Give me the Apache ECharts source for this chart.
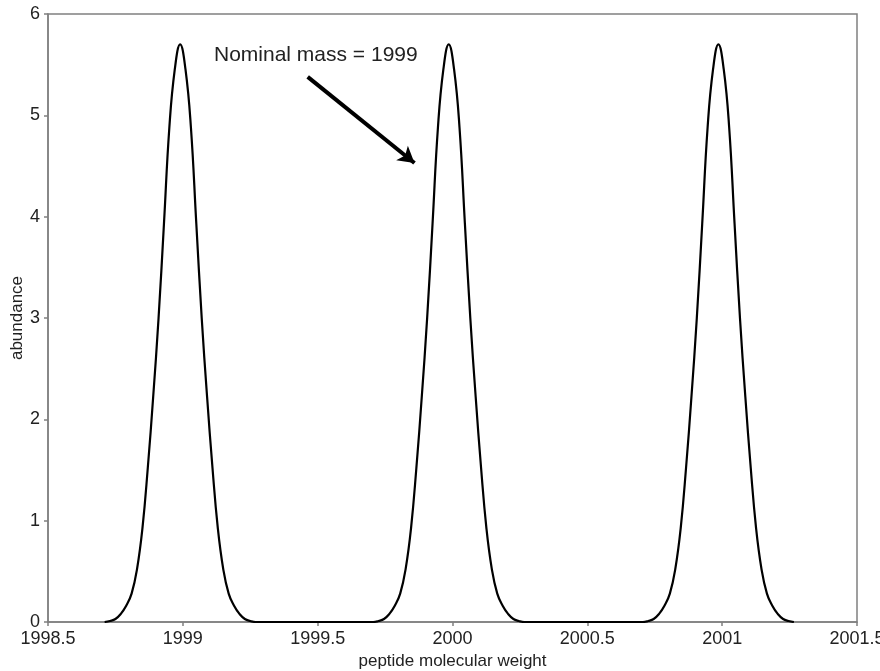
<!DOCTYPE html>
<html>
<head>
<meta charset="utf-8">
<script src="https://cdn.jsdelivr.net/npm/echarts@6/dist/echarts.min.js"></script>
<style>
	html, body { margin: 0; padding: 0; background: #ffffff; }
	#chart { width: 880px; height: 671px; }
</style>
</head>
<body>
<div id="chart"></div>
<script>
// x ticks
var massTicks = [1998.5, 1999, 1999.5, 2000, 2000.5, 2001, 2001.5];

// peak 1
var peak1Mass = [1998.71, 1998.73, 1998.75, 1998.77, 1998.79, 1998.81, 1998.83, 1998.85, 1998.87, 1998.89,
	1998.91, 1998.93, 1998.95, 1998.97, 1998.99, 1999.01, 1999.03, 1999.05, 1999.07, 1999.09,
	1999.11, 1999.13, 1999.15, 1999.17, 1999.19, 1999.21, 1999.23, 1999.25, 1999.27];
var peak1Abundance = [0, 0.01, 0.03, 0.08, 0.16, 0.28, 0.52, 0.92, 1.52, 2.22,
	3.00, 3.93, 4.88, 5.45, 5.70, 5.45, 4.88, 3.93, 3.00, 2.22,
	1.52, 0.92, 0.52, 0.28, 0.16, 0.08, 0.03, 0.01, 0];

// peak 2
var peak2Mass = [1999.706, 1999.726, 1999.746, 1999.766, 1999.786, 1999.806, 1999.826, 1999.846, 1999.866, 1999.886,
	1999.906, 1999.926, 1999.946, 1999.966, 1999.986, 2000.006, 2000.026, 2000.046, 2000.066, 2000.086,
	2000.106, 2000.126, 2000.146, 2000.166, 2000.186, 2000.206, 2000.226, 2000.246, 2000.266];
var peak2Abundance = [0, 0.01, 0.03, 0.08, 0.16, 0.28, 0.52, 0.92, 1.52, 2.22,
	3.00, 3.93, 4.88, 5.45, 5.70, 5.45, 4.88, 3.93, 3.00, 2.22,
	1.52, 0.92, 0.52, 0.28, 0.16, 0.08, 0.03, 0.01, 0];

// peak 3
var peak3Mass = [2000.706, 2000.726, 2000.746, 2000.766, 2000.786, 2000.806, 2000.826, 2000.846, 2000.866, 2000.886,
	2000.906, 2000.926, 2000.946, 2000.966, 2000.986, 2001.006, 2001.026, 2001.046, 2001.066, 2001.086,
	2001.106, 2001.126, 2001.146, 2001.166, 2001.186, 2001.206, 2001.226, 2001.246, 2001.266];
var peak3Abundance = [0, 0.01, 0.03, 0.08, 0.16, 0.28, 0.52, 0.92, 1.52, 2.22,
	3.00, 3.93, 4.88, 5.45, 5.70, 5.45, 4.88, 3.93, 3.00, 2.22,
	1.52, 0.92, 0.52, 0.28, 0.16, 0.08, 0.03, 0.01, 0];

// arrow of the annotation, in data units
var arrowFrom = [1999.463, 5.38];
var arrowTo = [1999.859, 4.53];
var noteText = 'Nominal mass = 1999';

var fontName = '"Liberation Sans", Arial, sans-serif';
var axisGrey = '#808080';

function pairs(xs, ys) {
	var t = [];
	for (var i = 0; i < xs.length; i++) {
		t.push([xs[i], ys[i]]);
	}
	return t;
}

var curve = [].concat(
	pairs(peak1Mass, peak1Abundance),
	pairs(peak2Mass, peak2Abundance),
	pairs(peak3Mass, peak3Abundance)
);

var dom = document.getElementById('chart');
var myChart = echarts.init(dom, null, { renderer: 'canvas' });

var option = {
	animation: false,
	backgroundColor: '#ffffff',
	grid: {
		left: 48,
		right: 23,
		top: 14,
		bottom: 49,
		outerBoundsMode: 'none',
		containLabel: false,
		show: true,
		borderColor: axisGrey,
		borderWidth: 1.5
	},
	xAxis: {
		type: 'value',
		min: massTicks[0],
		max: massTicks[massTicks.length - 1],
		interval: 0.5,
		name: 'peptide molecular weight',
		nameLocation: 'middle',
		nameGap: 29,
		nameTextStyle: { color: '#222', fontSize: 17, fontFamily: fontName },
		axisLine: { show: true, onZero: false, lineStyle: { color: axisGrey, width: 1.5 } },
		axisTick: { show: true, inside: false, length: 4, lineStyle: { color: axisGrey, width: 1.5 } },
		axisLabel: {
			color: '#222',
			fontSize: 18,
			fontFamily: fontName,
			margin: 8,
			formatter: function (v) { return String(v); }
		},
		splitLine: { show: false }
	},
	yAxis: {
		type: 'value',
		min: 0,
		max: 6,
		interval: 1,
		name: 'abundance',
		nameLocation: 'middle',
		nameGap: 22,
		nameMoveOverlap: false,
		nameTextStyle: { color: '#222', fontSize: 17, fontFamily: fontName },
		axisLine: { show: true, lineStyle: { color: axisGrey, width: 1.5 } },
		axisTick: { show: true, inside: false, length: 4, lineStyle: { color: axisGrey, width: 1.5 } },
		axisLabel: { color: '#222', fontSize: 18, fontFamily: fontName, margin: 8 },
		splitLine: { show: false }
	},
	series: [{
		type: 'line',
		data: curve,
		smooth: 0.45,
		showSymbol: false,
		symbol: 'none',
		lineStyle: { color: '#000000', width: 2.2 },
		markLine: {
			silent: true,
			symbol: ['none', 'arrow'],
			symbolSize: [14, 16],
			lineStyle: { color: '#000000', width: 4, type: 'solid' },
			label: { show: false },
			data: [[
				{ coord: arrowFrom },
				{ coord: arrowTo }
			]]
		}
	}],
	graphic: [{
		type: 'text',
		left: 214,
		top: 45,
		style: {
			text: noteText,
			fill: '#222',
			font: '21px ' + fontName
		}
	}]
};

myChart.setOption(option);
</script>
</body>
</html>
